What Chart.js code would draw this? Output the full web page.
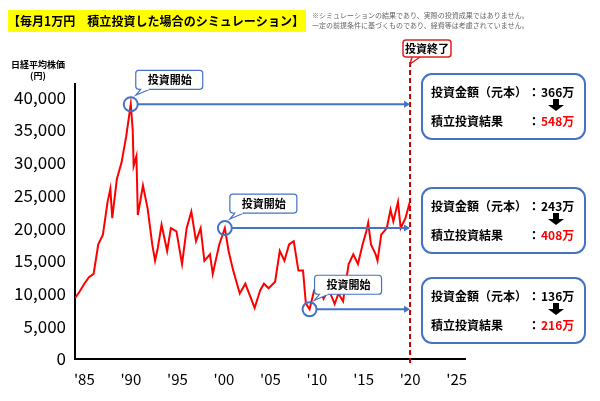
<!DOCTYPE html>
<html><head><meta charset="utf-8">
<script src="https://cdn.jsdelivr.net/npm/chart.js@4/dist/chart.umd.min.js"></script>
<style>body{margin:0;background:#fff}</style>
</head><body><canvas id="c" width="600" height="401"></canvas>
<script>
const FONT = '"Noto Sans CJK JP", sans-serif';
const years = [1984.0,1984.5,1985.0,1985.5,1986.0,1986.5,1987.0,1987.5,1987.8,1988.0,1988.5,1989.0,1989.5,1989.99,1990.2,1990.3,1990.6,1990.75,1991.0,1991.3,1991.8,1992.3,1992.6,1992.9,1993.3,1993.9,1994.3,1994.9,1995.5,1996.0,1996.5,1997.0,1997.5,1997.9,1998.5,1998.8,1999.5,2000.1,2000.5,2001.0,2001.7,2002.3,2003.3,2003.9,2004.3,2004.8,2005.5,2006.0,2006.5,2007.0,2007.5,2008.0,2008.5,2008.8,2009.2,2009.7,2010.3,2010.7,2011.2,2011.5,2011.9,2012.3,2012.8,2013.0,2013.4,2013.9,2014.4,2014.9,2015.3,2015.5,2015.8,2016.3,2016.5,2016.9,2017.5,2017.9,2018.2,2018.7,2018.99,2019.5,2019.9,2020.0];
const nikkei = [9300,10300,11500,12500,13000,17500,19000,24000,26000,21500,27500,30000,34000,38900,35000,29500,31000,22000,24000,26500,23000,17500,15000,17000,20500,16500,20000,19500,14500,20000,22500,18000,20000,15000,16000,13000,17500,20000,16500,13500,10000,11500,7800,10500,11500,10800,11800,16500,15000,17500,18000,13500,13500,8500,7600,10500,11000,9200,10500,9800,8400,10000,8800,10800,14500,16000,14500,17500,19500,20800,17500,16000,15000,19000,20000,22800,21000,24000,20000,21500,23600,23000];
const xTicks = [1985,1990,1995,2000,2005,2010,2015,2020,2025];
const yTicks = [0,5000,10000,15000,20000,25000,30000,35000,40000];
const startPoints = [[1989.99,38900],[2000.1,20000],[2009.2,7600]];
const endYear = 2020;
const invested = ['366万','243万','136万'];
const results = ['548万','408万','216万'];

function rr(ctx,x,y,w,h,r){ctx.beginPath();ctx.roundRect(x,y,w,h,r);}

const deco = {
  id:'deco',
  afterDraw(chart){
    const ctx = chart.ctx, xs = chart.scales.x, ys = chart.scales.y;
    ctx.save();
    ctx.fillStyle='#ffff00';ctx.fillRect(8,10,298,22);
    ctx.fillStyle='#000';ctx.font='bold 12.5px '+FONT;ctx.textBaseline='middle';
    ctx.fillText('【毎月1万円　積立投資した場合のシミュレーション】',8,21,296);
    ctx.fillStyle='#666';ctx.font='7px '+FONT;
    ctx.fillText('※シミュレーションの結果であり、実際の投資成果ではありません。',312,15);
    ctx.fillText('一定の前提条件に基づくものであり、経費等は考慮されていません。',312,25);
    ctx.fillStyle='#000';ctx.font='bold 9px '+FONT;ctx.textAlign='center';
    ctx.fillText('日経平均株価',38,65);ctx.fillText('(円)',38,76);
    const ex = xs.getPixelForValue(endYear);
    ctx.strokeStyle='#c00000';ctx.lineWidth=2;ctx.setLineDash([5,3]);
    ctx.beginPath();ctx.moveTo(ex,62);ctx.lineTo(ex,366);ctx.stroke();ctx.setLineDash([]);
    ctx.fillStyle='#fff';ctx.strokeStyle='#e02020';ctx.lineWidth=1.5;
    rr(ctx,403,40,48,17,3);ctx.fill();ctx.stroke();
    ctx.beginPath();ctx.moveTo(412,57);ctx.lineTo(ex,64);ctx.lineTo(420,57);ctx.stroke();
    ctx.fillStyle='#000';ctx.font='bold 11px '+FONT;ctx.fillText('投資終了',427,49);
    const boxY=[74,188,278];
    startPoints.forEach((p,i)=>{
      const px=xs.getPixelForValue(p[0]), py=ys.getPixelForValue(p[1]);
      ctx.strokeStyle='#4472c4';ctx.lineWidth=2;
      ctx.beginPath();ctx.arc(px,py,7,0,Math.PI*2);ctx.stroke();
      ctx.beginPath();ctx.moveTo(px+7,py);ctx.lineTo(ex-5,py);ctx.stroke();
      ctx.fillStyle='#4472c4';ctx.beginPath();ctx.moveTo(ex,py);ctx.lineTo(ex-6,py-3.5);ctx.lineTo(ex-6,py+3.5);ctx.fill();
      const bx=px+5, by=py-34;
      ctx.fillStyle='#fff';ctx.lineWidth=1.2;rr(ctx,bx,by,67,19,3);ctx.fill();ctx.stroke();
      ctx.beginPath();ctx.moveTo(bx+5,by+19);ctx.lineTo(px+5,py-9);ctx.lineTo(bx+14,by+19);ctx.fill();ctx.stroke();
      ctx.fillStyle='#fff';ctx.fillRect(bx+6,by+17,7,2.5);
      ctx.fillStyle='#000';ctx.font='bold 11px '+FONT;ctx.textAlign='center';ctx.fillText('投資開始',bx+34,by+10);
      const y0=boxY[i];
      ctx.strokeStyle='#4472c4';ctx.lineWidth=2;ctx.fillStyle='#fff';
      rr(ctx,422,y0,163,65,10);ctx.fill();ctx.stroke();
      ctx.fillStyle='#000';ctx.font='bold 12px '+FONT;ctx.textAlign='left';
      ctx.fillText('投資金額（元本）',431,y0+18);ctx.fillText('積立投資結果',431,y0+47);
      ctx.fillText('：',528,y0+18);ctx.fillText('：',528,y0+47);
      ctx.fillText(invested[i],541,y0+18);
      ctx.fillStyle='#ff0000';ctx.fillText(results[i],541,y0+47);
      ctx.fillStyle='#000';ctx.fillRect(553,y0+25,6,6);
      ctx.beginPath();ctx.moveTo(548,y0+31);ctx.lineTo(564,y0+31);ctx.lineTo(556,y0+37);ctx.fill();
    });
    ctx.restore();
  }
};

new Chart(document.getElementById('c'),{
  type:'line',
  data:{datasets:[{data:years.map((x,i)=>({x,y:nikkei[i]})),borderColor:'#ff0000',borderWidth:2,pointRadius:0,tension:0}]},
  options:{
    responsive:false,animation:false,devicePixelRatio:1,
    layout:{padding:{left:0,right:135,top:84,bottom:10}},
    plugins:{legend:{display:false},tooltip:{enabled:false}},
    scales:{
      x:{type:'linear',min:1984,max:2025.9,
        afterBuildTicks:s=>{s.ticks=xTicks.map(v=>({value:v}));},
        ticks:{callback:v=>"'"+String(v).slice(2),color:'#000',font:{family:FONT,size:15},maxRotation:0,autoSkip:false},
        grid:{display:false,drawTicks:true,tickLength:8,tickColor:'#000'},border:{color:'#000',width:2}},
      y:{min:0,max:42000,
        afterBuildTicks:s=>{s.ticks=yTicks.map(v=>({value:v}));},
        afterFit:s=>{s.width=75;},
        ticks:{callback:v=>v.toLocaleString('en-US'),color:'#000',font:{family:FONT,size:17}},
        grid:{display:false,drawTicks:true,tickLength:6,tickColor:'#000'},border:{color:'#000',width:2}}
    }
  },
  plugins:[deco]
});
</script>
</body></html>
